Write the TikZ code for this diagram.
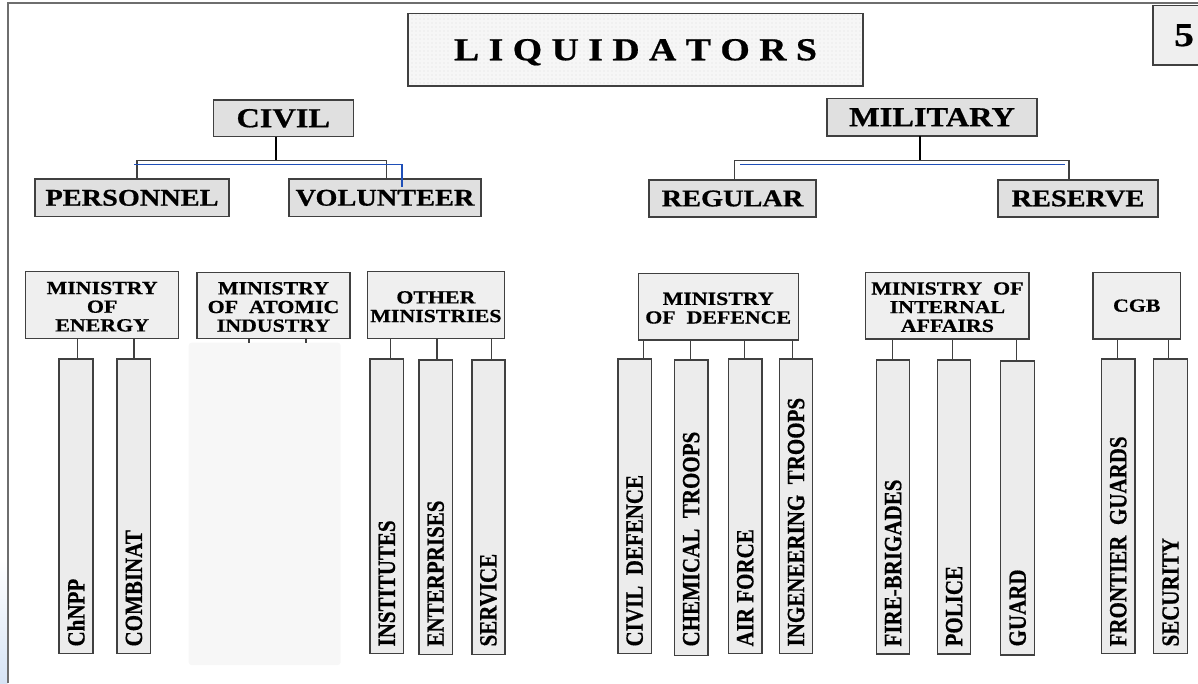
\documentclass[tikz,border=0pt]{standalone}
\usepackage{fontspec}
\setmainfont{Liberation Serif}[BoldFeatures={FakeBold=0.6}]
\usetikzlibrary{patterns}
\definecolor{bord}{HTML}{404040}
\definecolor{fillA}{HTML}{E0E0E0}
\definecolor{fillB}{HTML}{EFEFEF}
\definecolor{fillC}{HTML}{ECECEC}
\definecolor{hidec}{HTML}{F7F7F7}
\definecolor{titlefill}{HTML}{F6F6F6}
\definecolor{lineblue}{HTML}{1F4FB8}
\definecolor{framec}{HTML}{6E6E6E}
\definecolor{cornerblue}{RGB}{215,228,245}
\newcommand{\hstr}[1]{\scalebox{1.18}[1]{#1}}
% \bnode{style}{name}{x1}{y1}{x2}{y2}{text}
\newcommand{\bnode}[7]{%
  \node[#1, minimum width={0.75pt*(#5-#3)}, minimum height={0.75pt*(#6-#4)}]
    (#2) at ({(#3+#5)/2},{(#4+#6)/2}) {#7};}
\newcommand{\colitem}[6]{%
  \bnode{colbox}{#1}{#2}{#3}{#4}{#5}{}
  \node[coltext] (#1t) at (#1.south |- textline) {\hstr{\rotatebox{90}{#6}}};}
\newcommand{\conn}[3]{\draw[linkline] (#1.south -| #3,0) -- (#2.north -| #3,0);}
\begin{document}
\begin{tikzpicture}[x=0.75pt,y=-0.75pt,
  bx/.style={draw=bord, line width=0.9pt, inner sep=0pt, outer sep=0pt, rectangle},
  topbox/.style={bx, fill=fillA, font=\fontsize{20.6}{22}\selectfont\bfseries},
  subbox/.style={bx, fill=fillA, font=\fontsize{18}{20}\selectfont\bfseries},
  minbox/.style={bx, fill=fillB, font=\fontsize{13.9}{14}\selectfont\bfseries},
  mintab/.style={minbox, text height=12.9pt, text depth=0pt},
  colbox/.style={bx, fill=fillC},
  titlebox/.style={bx, preaction={fill=titlefill}, pattern=dots, pattern color=gray!25,
      font=\fontsize{24}{26}\selectfont\bfseries, text depth=0pt},
  numbox/.style={bx, fill=fillB, font=\fontsize{25}{27}\selectfont\bfseries},
  hidebox/.style={fill=hidec, rounded corners=2pt, inner sep=0pt, outer sep=0pt},
  coltext/.style={inner sep=0pt, anchor=south, font=\fontsize{15.75}{16}\selectfont\bfseries},
  linkline/.style={draw=bord, line width=0.8pt},
  barline/.style={draw=black, line width=1.1pt},
  bluebar/.style={draw=lineblue, line width=1.2pt}]
\useasboundingbox (0,0) rectangle (1198,683);
\shade[top color=white, bottom color=cornerblue] (0,560) rectangle (7.5,683);
\draw[framec, line width=1pt] (8,683) -- (8,3) -- (1198,3);
\coordinate (textline) at (0,646.7);

% title and page number
\bnode{titlebox}{title}{408}{13.3}{863}{86}{\hstr{L I Q U I D A T O R S}}
\bnode{numbox}{five}{1153}{5.5}{1215}{65}{\hstr{5}}

% level 1 and 2
\bnode{topbox}{civil}{213.3}{100}{353.3}{136.7}{\hstr{CIVIL}}
\bnode{topbox}{military}{827}{98.3}{1037}{136}{\hstr{MILITARY}}
\bnode{subbox}{personnel}{35}{179}{229}{216.7}{\hstr{PERSONNEL}}
\bnode{subbox}{volunteer}{289}{179}{481}{216.7}{\hstr{VOLUNTEER}}
\bnode{subbox}{regular}{649}{180}{816}{217}{\hstr{REGULAR}}
\bnode{subbox}{reserve}{998}{180}{1158}{217}{\hstr{RESERVE}}

% ministries
\bnode{mintab}{moe}{25.6}{271.7}{178.7}{338.7}
  {\hstr{\begin{tabular}{@{}c@{}}MINISTRY\\OF\\ENERGY\end{tabular}}}
\bnode{mintab}{moai}{197}{272.3}{350}{338.7}
  {\hstr{\begin{tabular}{@{}c@{}}MINISTRY\\OF~~ATOMIC\\INDUSTRY\end{tabular}}}
\bnode{mintab}{other}{367.4}{271.7}{504.4}{338.7}
  {\hstr{\begin{tabular}{@{}c@{}}OTHER\\MINISTRIES\end{tabular}}}
\bnode{mintab}{mod}{638.1}{273.3}{798.3}{340}
  {\hstr{\begin{tabular}{@{}c@{}}MINISTRY\\OF~~DEFENCE\end{tabular}}}
\bnode{mintab}{moia}{865.8}{272.3}{1029}{339}
  {\hstr{\begin{tabular}{@{}c@{}}MINISTRY~~OF\\INTERNAL\\AFFAIRS\end{tabular}}}
\bnode{minbox}{cgb}{1093}{272.3}{1180.5}{339}{\hstr{CGB}}

% hidden area below atomic industry
\bnode{hidebox}{hide}{188.7}{342.7}{340.6}{665}{}

% columns
\colitem{chnpp}{59}{359}{93}{653.3}{ChNPP}
\colitem{combinat}{117}{359}{150.8}{653.3}{COMBINAT}
\colitem{inst}{370}{359}{403.7}{653.3}{INSTITUTES}
\colitem{ent}{419}{360}{452.3}{654.3}{ENTERPRISES}
\colitem{serv}{471.9}{360}{505}{654.3}{SERVICE}
\colitem{cdef}{617.9}{359}{651.5}{653.3}{CIVIL~~DEFENCE}
\colitem{chem}{674.4}{360}{707.9}{655.7}{CHEMICAL~~TROOPS}
\colitem{air}{728.5}{359}{762}{653.3}{AIR FORCE}
\colitem{ing}{779.3}{359}{812.8}{653.3}{INGENEERING~~TROOPS}
\colitem{fire}{876.5}{360}{909.7}{654}{FIRE-BRIGADES}
\colitem{police}{937.5}{360}{970.7}{654}{POLICE}
\colitem{guard}{1000.5}{361}{1034.8}{655}{GUARD}
\colitem{front}{1101.5}{359}{1135}{653.3}{FRONTIER~~GUARDS}
\colitem{sec}{1153.8}{359}{1187.3}{653.3}{SECURITY}

% connectors ministries -> columns
\conn{moe}{chnpp}{77.7}
\conn{moe}{combinat}{134}
\draw[linkline] (moai.south -| 249,0) -- (hide.north -| 249,0);
\draw[linkline] (moai.south -| 306,0) -- (hide.north -| 306,0);
\conn{other}{inst}{390.4}
\conn{other}{ent}{437}
\conn{other}{serv}{491.4}
\conn{mod}{cdef}{643.9}
\conn{mod}{chem}{690.8}
\conn{mod}{air}{744.2}
\conn{mod}{ing}{792.6}
\conn{moia}{fire}{892.9}
\conn{moia}{police}{952.8}
\conn{moia}{guard}{1016.5}
\conn{cgb}{front}{1117.5}
\conn{cgb}{sec}{1168.3}

% brackets
\coordinate (cbar) at (276,160.7);
\draw[barline] (civil.south -| cbar) -- (cbar);
\draw[linkline] (personnel.north -| 137,0) |- (cbar) -| (volunteer.north -| 386.5,0);
\coordinate (mbar) at (920,160.7);
\draw[barline] (military.south -| mbar) -- (mbar);
\draw[linkline] (regular.north -| 734.6,0) |- (mbar) -| (reserve.north -| 1069,0);

% blue lines
\coordinate (cb1) at (134.3,164.3);
\coordinate (cb2) at (401.8,186.7);
\draw[bluebar] (cb1) -| (cb2);
\coordinate (mb1) at (740,164.3);
\coordinate (mb2) at (1064.5,164.3);
\draw[bluebar] (mb1) -- (mb2);
\end{tikzpicture}
\end{document}
